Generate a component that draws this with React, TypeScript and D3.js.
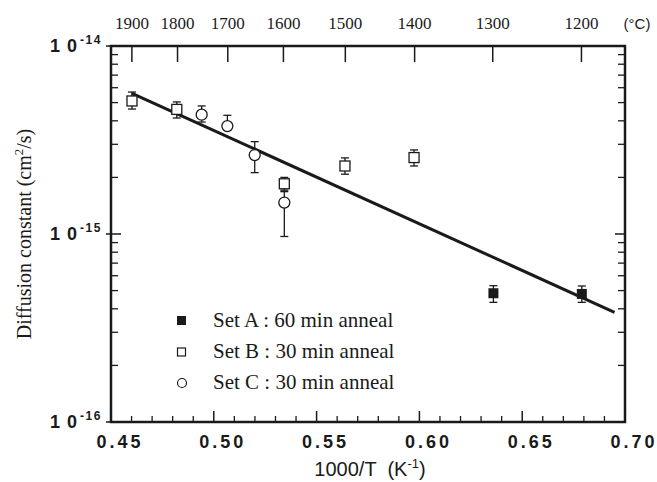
import React from "react";
import * as d3 from "d3";

// 1000/T (K^-1) and D (cm^2/s)
const setA_x = [0.636, 0.679];
const setA_d = [4.84e-16, 4.8e-16];
const setA_hi = [5.31e-16, 5.29e-16];
const setA_lo = [4.33e-16, 4.33e-16];

const setB_x = [0.4602, 0.482, 0.5343, 0.5638, 0.5974];
const setB_d = [5.1e-15, 4.6e-15, 1.85e-15, 2.3e-15, 2.55e-15];
const setB_hi = [5.69e-15, 5.04e-15, 2.0e-15, 2.54e-15, 2.8e-15];
const setB_lo = [4.62e-15, 4.14e-15, 1.71e-15, 2.08e-15, 2.3e-15];

const setC_x = [0.4941, 0.5066, 0.5199, 0.5343];
const setC_d = [4.31e-15, 3.75e-15, 2.63e-15, 1.47e-15];
const setC_hi = [4.8e-15, 4.28e-15, 3.1e-15, 1.68e-15];
const setC_lo = [3.94e-15, 3.75e-15, 2.12e-15, 0.97e-15];

const fit_x = [0.4602, 0.6949];
const fit_d = [5.6e-15, 3.83e-16];

const xTicks = [0.45, 0.5, 0.55, 0.6, 0.65, 0.7];
const celsiusTicks = [1900, 1800, 1700, 1600, 1500, 1400, 1300, 1200];
const decades = [-14, -15, -16];

const legendLabels = ["Set A : 60 min anneal", "Set B : 30 min anneal", "Set C : 30 min anneal"];

const W = 657;
const H = 482;
const left = 111, right = 625, top = 46, bottom = 422;

export default function App() {
  const x = d3.scaleLinear().domain([0.45, 0.7]).range([left, right]);
  const y = d3.scaleLog().domain([1e-16, 1e-14]).range([bottom, top]);

  const minorX = d3.range(45, 71).map((v) => v / 100).filter((v) => Math.round(v * 100) % 5 !== 0);
  const minorY: number[] = [];
  [-16, -15].forEach((e) => {
    for (let m = 2; m <= 9; m++) minorY.push(m * Math.pow(10, e));
  });

  const line = d3.line<number>().x((_, i) => x(fit_x[i])).y((_, i) => y(fit_d[i]));

  const ink = "#1a1a1a";
  const sans = "'Liberation Sans', Arial, sans-serif";
  const serif = "'Liberation Serif', 'Times New Roman', serif";

  const errBar = (xv: number, hi: number, lo: number, k: string) => (
    <g key={k} stroke={ink} strokeWidth={1.3}>
      <line x1={x(xv)} x2={x(xv)} y1={y(hi)} y2={y(lo)} />
      <line x1={x(xv) - 4} x2={x(xv) + 4} y1={y(hi)} y2={y(hi)} />
      {lo !== hi && <line x1={x(xv) - 4} x2={x(xv) + 4} y1={y(lo)} y2={y(lo)} />}
    </g>
  );

  return (
    <svg width={W} height={H} style={{ position: "absolute", left: 0, top: 0, background: "#fff" }}>
      {/* frame */}
      <rect x={left} y={top} width={right - left} height={bottom - top} fill="none" stroke={ink} strokeWidth={2.5} />

      {/* bottom ticks */}
      {xTicks.map((t) => (
        <g key={t}>
          <line x1={x(t)} x2={x(t)} y1={bottom} y2={bottom - 11} stroke={ink} strokeWidth={1.5} />
          <text x={x(t) + 9} y={448} textAnchor="middle" fontFamily={sans} fontWeight="bold" fontSize={18} letterSpacing={3} fill={ink}>
            {t.toFixed(2)}
          </text>
        </g>
      ))}
      {minorX.map((t) => (
        <line key={t} x1={x(t)} x2={x(t)} y1={bottom} y2={bottom - 6} stroke={ink} strokeWidth={1.3} />
      ))}

      {/* top celsius ticks */}
      {celsiusTicks.map((c) => {
        const px = x(1000 / (c + 273.15));
        return (
          <g key={c}>
            <line x1={px} x2={px} y1={top} y2={top + 16} stroke={ink} strokeWidth={1.5} />
            <text x={px} y={29} textAnchor="middle" fontFamily={serif} fontSize={17} fill={ink}>
              {c}
            </text>
          </g>
        );
      })}
      <text x={637} y={29} textAnchor="middle" fontFamily={sans} fontSize={15} fill={ink}>(°C)</text>

      {/* y ticks */}
      {decades.map((e) => (
        <g key={e}>
          <line x1={left - 5} x2={left + 10} y1={y(Math.pow(10, e))} y2={y(Math.pow(10, e))} stroke={ink} strokeWidth={1.5} />
          <line x1={right - 10} x2={right} y1={y(Math.pow(10, e))} y2={y(Math.pow(10, e))} stroke={ink} strokeWidth={1.5} />
          <text x={78} y={y(Math.pow(10, e)) + 6} textAnchor="end" fontFamily={sans} fontWeight="bold" fontSize={18} letterSpacing={1} fill={ink}>
            1 0
          </text>
          <text x={80} y={y(Math.pow(10, e)) - 2} fontFamily={sans} fontWeight="bold" fontSize={12} letterSpacing={1.5} fill={ink}>
            {"-" + Math.abs(e)}
          </text>
        </g>
      ))}
      {minorY.map((v) => (
        <g key={v}>
          <line x1={left} x2={left + 7} y1={y(v)} y2={y(v)} stroke={ink} strokeWidth={1.3} />
          <line x1={right - 7} x2={right} y1={y(v)} y2={y(v)} stroke={ink} strokeWidth={1.3} />
        </g>
      ))}

      {/* fit line */}
      <path d={line(fit_x) || ""} fill="none" stroke={ink} strokeWidth={3} />

      {/* error bars */}
      {setA_x.map((v, i) => errBar(v, setA_hi[i], setA_lo[i], "a" + i))}
      {setB_x.map((v, i) => errBar(v, setB_hi[i], setB_lo[i], "b" + i))}
      {setC_x.map((v, i) => errBar(v, setC_hi[i], setC_lo[i], "c" + i))}

      {/* markers */}
      {setA_x.map((v, i) => (
        <rect key={"A" + i} x={x(v) - 5} y={y(setA_d[i]) - 5} width={10} height={10} fill={ink} />
      ))}
      {setB_x.map((v, i) => (
        <rect key={"B" + i} x={x(v) - 5} y={y(setB_d[i]) - 5} width={10} height={10} fill="#fff" stroke={ink} strokeWidth={1.3} />
      ))}
      {setC_x.map((v, i) => (
        <circle key={"C" + i} cx={x(v)} cy={y(setC_d[i])} r={5.5} fill="#fff" stroke={ink} strokeWidth={1.3} />
      ))}

      {/* legend */}
      <g fontFamily={serif} fontSize={21} fill={ink}>
        <rect x={177} y={316} width={9} height={9} fill={ink} />
        <rect x={177.5} y={348} width={8} height={8} fill="#fff" stroke={ink} strokeWidth={1.2} />
        <circle cx={182} cy={383} r={4.5} fill="#fff" stroke={ink} strokeWidth={1.2} />
        {legendLabels.map((l, i) => (
          <text key={l} x={213} y={327 + i * 31}>{l}</text>
        ))}
      </g>

      {/* axis titles */}
      <text x={370} y={476} textAnchor="middle" fontFamily={sans} fontSize={20} fill={ink} style={{ whiteSpace: "pre" }}>
        {"1000/T  (K"}<tspan dy={-8} fontSize={13}>-1</tspan><tspan dy={8}>)</tspan>
      </text>
      <text transform={`translate(31,234) rotate(-90)`} textAnchor="middle" fontFamily={serif} fontSize={20} fill={ink}>
        Diffusion constant (cm<tspan dy={-8} fontSize={13}>2</tspan><tspan dy={8}>/s)</tspan>
      </text>
    </svg>
  );
}
